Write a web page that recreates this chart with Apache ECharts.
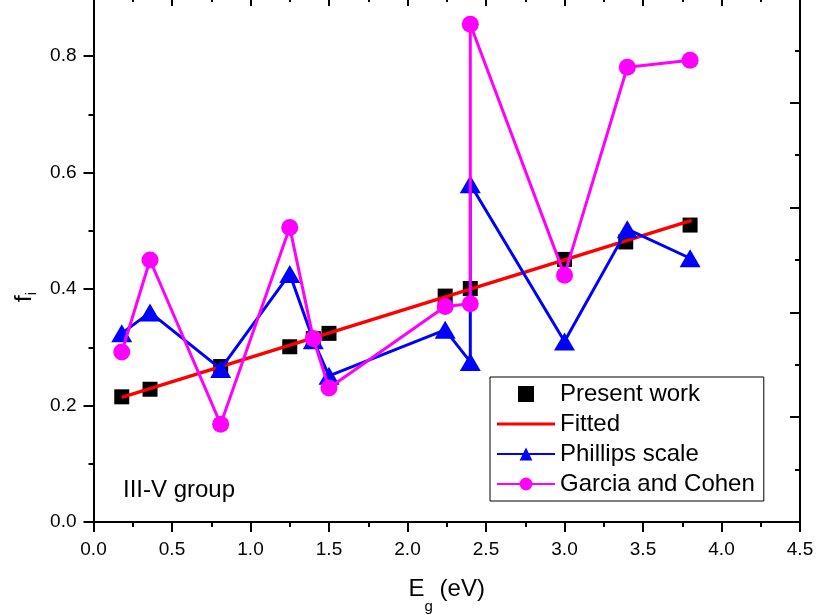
<!DOCTYPE html>
<html>
<head>
<meta charset="utf-8">
<script src="https://cdn.jsdelivr.net/npm/echarts@6/dist/echarts.min.js"></script>
<style>
html,body{margin:0;padding:0;background:#fff;}
#chart{width:816px;height:615px;}
</style>
</head>
<body>
<div id="chart"></div>
<script>
// ---- data ----
const presentX = [0.18, 0.36, 0.81, 1.25, 1.40, 1.50, 2.24, 2.40, 3.00, 3.39, 3.80];
const presentY = [0.215, 0.228, 0.267, 0.301, 0.315, 0.324, 0.388, 0.401, 0.451, 0.481, 0.510];
const fittedX = [0.18, 3.81];
const fittedY = [0.214, 0.518];
const phillipsX = [0.18, 0.36, 0.81, 1.25, 1.40, 1.50, 2.24, 2.40, 2.40, 3.00, 3.40, 3.80];
const phillipsY = [0.324, 0.360, 0.263, 0.426, 0.312, 0.251, 0.330, 0.275, 0.580, 0.310, 0.503, 0.453];
const garciaX = [0.18, 0.36, 0.81, 1.25, 1.40, 1.50, 2.24, 2.40, 2.40, 3.00, 3.40, 3.80];
const garciaY = [0.292, 0.450, 0.168, 0.506, 0.315, 0.230, 0.370, 0.375, 0.855, 0.424, 0.781, 0.793];
const seriesNames = ['Present work', 'Fitted', 'Phillips scale', 'Garcia and Cohen'];
const xTicks = {min: 0, max: 4.5, step: 0.5};
const yTicks = {min: 0, max: 0.9, step: 0.2};
const annotation = 'III-V group';

const zip = (xs, ys) => xs.map((x, i) => [x, ys[i]]);
const FONT = 'Liberation Sans, Arial, sans-serif';
const chart = echarts.init(document.getElementById('chart'), null, {renderer: 'canvas'});

const black = {color: '#000', width: 2};
const option = {
  animation: false,
  backgroundColor: '#fff',
  grid: {left: 93.5, right: 16, top: -2, bottom: 93, containLabel: false, outerBoundsMode: 'none'},
  xAxis: [
    {
      type: 'value', position: 'bottom', min: xTicks.min, max: xTicks.max, interval: xTicks.step,
      axisLine: {show: true, onZero: false, lineStyle: black},
      axisTick: {show: true, inside: false, length: 10, lineStyle: black},
      minorTick: {show: true, splitNumber: 2, length: 5, lineStyle: black},
      splitLine: {show: false},
      axisLabel: {fontSize: 19, fontFamily: FONT, color: '#000', margin: 18, formatter: v => v.toFixed(1)},
      name: '{m|E}{s|g}{m| (eV)}', nameLocation: 'middle', nameGap: 55,
      nameTextStyle: {fontSize: 24, fontFamily: FONT, color: '#000',
        rich: {m: {fontSize: 24, fontFamily: FONT, lineHeight: 24, verticalAlign: 'top', color: '#000'},
               s: {fontSize: 15, fontFamily: FONT, lineHeight: 15, verticalAlign: 'top', padding: [22, 0, 0, 0], color: '#000'}}}
    },
    {
      type: 'value', position: 'top', min: xTicks.min, max: xTicks.max, interval: xTicks.step,
      axisLine: {show: true, onZero: false, lineStyle: black},
      axisTick: {show: true, inside: true, length: 8, lineStyle: black},
      minorTick: {show: true, splitNumber: 2, length: 4, lineStyle: black},
      splitLine: {show: false}, axisLabel: {show: false}
    }
  ],
  yAxis: [
    {
      type: 'value', position: 'left', min: yTicks.min, max: yTicks.max, interval: yTicks.step,
      axisLine: {show: true, onZero: false, lineStyle: black},
      axisTick: {show: true, inside: false, length: 10, lineStyle: black},
      splitLine: {show: false},
      axisLabel: {fontSize: 19, fontFamily: FONT, color: '#000', margin: 17, showMaxLabel: false,
                  formatter: v => v.toFixed(1)},
      name: '{m|f}{s|i}', nameLocation: 'middle', nameGap: 50,
      nameTextStyle: {fontSize: 24, fontFamily: FONT, color: '#000', padding: [0, 74, 0, 0],
        rich: {m: {fontSize: 24, fontFamily: FONT, lineHeight: 24, verticalAlign: 'top', color: '#000'},
               s: {fontSize: 15, fontFamily: FONT, lineHeight: 15, verticalAlign: 'top', padding: [12, 0, 0, 0], color: '#000'}}}
    },
    {
      type: 'value', position: 'left', min: yTicks.min, max: yTicks.max, interval: yTicks.step / 2,
      axisLine: {show: false, onZero: false},
      axisTick: {show: true, inside: false, length: 5, lineStyle: black},
      splitLine: {show: false}, axisLabel: {show: false}
    },
    {
      type: 'value', position: 'right', min: 0, max: 1, interval: 0.2,
      axisLine: {show: true, onZero: false, lineStyle: black},
      axisTick: {show: true, inside: true, length: 10, lineStyle: black},
      minorTick: {show: true, splitNumber: 2, length: 5, lineStyle: black},
      splitLine: {show: false}, axisLabel: {show: false}
    }
  ],
  legend: {
    left: 490, top: 377, orient: 'vertical',
    padding: [5, 9, 5, 6],
    itemWidth: 58, itemHeight: 16, itemGap: 6,
    borderColor: '#000', borderWidth: 1, backgroundColor: '#fff',
    textStyle: {fontSize: 24, fontFamily: FONT, color: '#000'},
    data: [
      {name: seriesNames[0], icon: 'path://M0,0 L10,0 L10,10 L0,10 Z'},
      {name: seriesNames[1], icon: 'path://M0,0 L100,0 L100,5 L0,5 Z'},
      {name: seriesNames[2]},
      {name: seriesNames[3]}
    ]
  },
  graphic: [{
    type: 'text', left: 123, top: 478,
    style: {text: annotation, font: '24px ' + FONT, fill: '#000'}
  }],
  series: [
    {name: seriesNames[0], type: 'scatter', symbol: 'rect', symbolSize: 15,
     itemStyle: {color: '#000', opacity: 1}, data: zip(presentX, presentY), z: 2},
    {name: seriesNames[1], type: 'line', symbol: 'none', lineStyle: {color: '#FF0000', width: 3.5},
     itemStyle: {color: '#FF0000'}, data: zip(fittedX, fittedY), z: 3},
    {name: seriesNames[2], type: 'line', symbol: 'triangle', symbolSize: [21, 18],
     lineStyle: {color: '#0000FF', width: 3}, itemStyle: {color: '#0000FF'},
     data: zip(phillipsX, phillipsY), z: 4},
    {name: seriesNames[3], type: 'line', symbol: 'circle', symbolSize: 17,
     lineStyle: {color: '#FF00FF', width: 3}, itemStyle: {color: '#FF00FF'},
     data: zip(garciaX, garciaY), z: 5}
  ]
};
chart.setOption(option);
</script>
</body>
</html>
